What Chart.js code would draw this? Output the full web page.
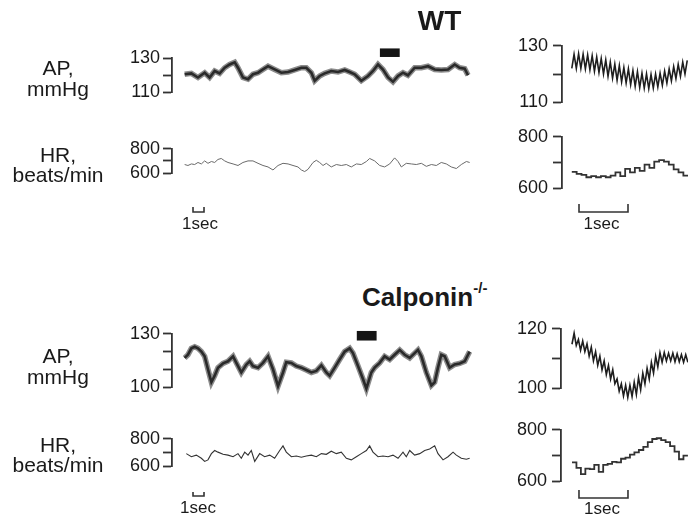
<!DOCTYPE html>
<html>
<head>
<meta charset="utf-8">
<script src="https://cdn.jsdelivr.net/npm/chart.js@4"></script>
<style>
  html, body { margin: 0; padding: 0; background: #fff; }
  #fig { position: relative; width: 688px; height: 516px; overflow: hidden;
         font-family: "Liberation Sans", Arial, sans-serif; color: #1a1a1a; }
  #fig canvas { position: absolute; }
  .lbl { position: absolute; white-space: nowrap; }
</style>
</head>
<body>
<div id="fig"></div>
<script>
// ---- WT, long recording (seconds, mmHg / beats/min)
const wtApT = [1.15,1.76,2.36,2.97,3.42,3.88,4.33,4.79,5.24,5.70,6.00,6.45,6.91,7.36,7.82,8.27,8.73,9.33,9.94,10.55,11.15,11.76,12.21,12.67,12.97,13.42,13.88,14.48,15.09,15.70,16.15,16.61,17.21,17.82,18.27,18.73,19.18,19.64,20.09,20.55,21.00,21.45,22.06,22.67,23.27,23.88,24.48,25.09,25.70,26.15,26.61,26.91];
const wtApV = [120.5,121,118.6,121.4,118.6,122.4,121,124.3,126.2,127.5,124.3,118.6,117.6,120.5,121.4,123.3,125.2,123.3,121.4,121.8,123,124.3,124.3,121.4,116.7,119.5,121,122.4,121.8,123,121.8,120.5,116.7,119.5,122.4,126.2,123.3,118.6,116.1,119.5,121.4,119.9,124.3,124.3,125.2,123.3,123,123.3,126.2,124.3,123.7,119.9];
const wtHrT = [1.15,1.45,1.76,2.06,2.36,2.67,2.97,3.27,3.58,3.88,4.18,4.48,4.79,5.09,5.55,6.00,6.45,6.91,7.36,7.82,8.27,8.73,9.18,9.64,10.09,10.55,11.00,11.45,11.76,12.06,12.36,12.82,13.12,13.42,13.73,14.03,14.48,14.94,15.39,15.85,16.30,16.76,17.21,17.67,17.97,18.42,18.88,19.33,19.79,20.24,20.55,20.85,21.30,21.76,22.21,22.67,23.12,23.58,24.03,24.48,24.94,25.39,25.85,26.30,26.76,27.06];
const wtHrV = [670,662,675,670,687,675,700,680,695,687,712,720,700,687,675,662,687,700,700,680,662,650,625,662,680,675,662,650,625,612,630,687,705,687,662,680,650,670,662,670,650,675,670,695,720,700,662,650,675,725,695,650,680,675,670,680,655,670,662,687,675,650,637,670,695,687];
const wtBar = [18.9, 20.7, 130.6, 135.6];   // sec from, sec to, level lo, level hi

// ---- WT, expanded view: alternating trough/peak per beat, and beat-by-beat HR
const wtApZoom = [122,127,122,127.2,122,127,121.8,126.8,121.5,126.5,121,126,120.5,125.5,120,125,119.2,124.2,118.5,123.5,117.8,123,117.2,122.3,116.8,121.8,116.2,121.2,115.6,120.8,115.2,120.3,115,120,114.8,119.8,115,120,115.4,120.3,116,121,116.8,121.8,117.6,122.6,118.4,123.4,119.2,124.2,120,124.8];
const wtHrZoom = [663,655,651,642,646,642,646,642,648,661,646,675,661,679,667,691,679,703,709,703,691,673,661,648];

// ---- Calponin-/-, long recording
const cpApT = [1.15,1.45,1.76,2.06,2.36,2.67,2.97,3.27,3.58,3.88,4.18,4.64,5.09,5.55,5.85,6.30,6.76,7.06,7.36,7.82,8.27,8.73,9.18,9.64,10.09,10.39,10.85,11.30,11.76,12.21,12.67,13.12,13.58,14.03,14.33,14.79,15.24,15.70,16.15,16.45,16.91,17.36,17.67,18.12,18.42,18.88,19.33,19.79,20.24,20.70,21.15,21.61,22.06,22.36,22.67,23.12,23.58,23.88,24.18,24.48,24.79,25.24,25.70,26.15,26.61,26.91,27.06];
const cpApV = [116.4,118.2,121.8,122.7,121.8,120,117.3,110,102.7,106.4,110.9,113.3,114.5,117.3,113.6,108.2,112.7,114.5,111.8,110.9,113.6,117.3,110,100.5,108.2,114,113.6,111.8,110.9,109.6,108.2,109.1,112.2,108.2,106.4,110.9,115.5,120,121.8,119.1,111.8,104.5,99.1,108.2,110.9,113.6,117.3,115.5,118.2,120.9,118.2,116.4,119.1,120.9,117.3,108.2,100.9,102.7,110.9,118.2,117.3,110.9,112.7,113.3,114.5,118.2,120];
const cpHrT = [1.30,1.76,2.21,2.67,2.97,3.27,3.58,3.88,4.18,4.64,5.09,5.55,6.00,6.30,6.61,6.91,7.21,7.52,7.97,8.42,8.88,9.33,9.79,10.09,10.39,10.85,11.30,11.76,12.21,12.67,13.12,13.58,14.03,14.48,14.94,15.39,15.85,16.30,16.76,17.21,17.67,17.97,18.27,18.73,19.18,19.64,20.09,20.55,21.00,21.30,21.61,22.06,22.52,22.97,23.42,23.88,24.18,24.64,25.09,25.55,25.85,26.30,26.76,27.06];
const cpHrV = [691,668,680,657,634,645,691,714,702,686,680,668,691,657,702,680,714,634,691,668,680,657,714,748,702,668,673,664,673,680,668,691,686,709,691,702,657,645,668,691,714,748,702,668,673,668,680,657,702,668,714,680,691,714,725,748,691,645,668,702,680,657,650,657];
const cpBar = [16.8, 18.6, 126.2, 131.6];

// ---- Calponin-/-, expanded view
const cpApZoom = [114.8,118.5,114.4,116.4,112.8,115.9,112.3,114.9,110.8,113.8,109.2,112.3,107.7,110.8,106.2,109.2,104.6,107.7,103.1,106.2,101.5,103.1,99,101.5,97.4,101,96.9,101,97.2,102,97.9,103.6,99.5,105.1,101.5,106.7,103.1,108.7,105.1,110.8,107.2,112,108.7,112,109.2,111.8,109.2,111.8,108.9,111.6,108.9,111.3,108.7,111.3,108.7];
const cpHrZoom = [673,651,627,648,646,663,636,663,667,675,673,687,691,703,712,721,733,752,764,767,760,752,736,715,685,699];

const fig = document.getElementById("fig");
const FONT = '"Liberation Sans", Arial, sans-serif';

function addText(html, x, baseline, size, bold, center) {
  const d = document.createElement("div");
  d.className = "lbl";
  d.innerHTML = html;
  d.style.fontSize = size + "px";
  d.style.lineHeight = size + "px";
  d.style.top = (baseline - 0.8465 * size) + "px";
  if (bold) d.style.fontWeight = "bold";
  if (center) {
    d.style.left = (x - 150) + "px";
    d.style.width = "300px";
    d.style.textAlign = "center";
  } else {
    d.style.left = x + "px";
  }
  fig.appendChild(d);
}

const pairs = (ts, vs) => vs.map((v, i) => ({ x: ts[i], y: v }));
const evenly = (t0, dt, vs) => vs.map((v, i) => ({ x: t0 + i * dt, y: v }));
const steps = (t0, dt, vs) => evenly(t0, dt, vs.concat([vs[vs.length - 1]]));

// stimulus bar and 1-sec calibration bracket
const extras = {
  id: "extras",
  afterDatasetsDraw(chart, args, o) {
    const { ctx, chartArea } = chart;
    const xs = chart.scales.x, ys = chart.scales.y;
    ctx.save();
    if (o.bar) {
      const x0 = xs.getPixelForValue(o.bar[0]), x1 = xs.getPixelForValue(o.bar[1]);
      const y0 = ys.getPixelForValue(o.bar[3]), y1 = ys.getPixelForValue(o.bar[2]);
      ctx.fillStyle = "#151515";
      ctx.fillRect(x0, y0, x1 - x0, y1 - y0);
    }
    if (o.cal) {
      const xa = xs.getPixelForValue(o.cal.start), xb = xs.getPixelForValue(o.cal.start + o.cal.len);
      const ya = chartArea.bottom + o.cal.dy0, yb = chartArea.bottom + o.cal.dy1;
      ctx.strokeStyle = "#333";
      ctx.lineWidth = 1.6;
      ctx.beginPath();
      ctx.moveTo(xa, ya); ctx.lineTo(xa, yb); ctx.lineTo(xb, yb); ctx.lineTo(xb, ya);
      ctx.stroke();
    }
    ctx.restore();
  }
};

function makeChart(p) {
  const c = document.createElement("canvas");
  const left = p.axisX - 60, top = p.yTop - p.padTop;
  const w = p.right - left, h = p.yBot - p.yTop + p.padTop + p.padBot;
  c.width = w; c.height = h;
  c.style.left = left + "px"; c.style.top = top + "px";
  c.style.width = w + "px"; c.style.height = h + "px";
  fig.appendChild(c);
  new Chart(c, {
    type: "line",
    data: { datasets: p.datasets },
    options: {
      responsive: false,
      animation: false,
      events: [],
      layout: { padding: { top: p.padTop, bottom: p.padBot, left: 0, right: 0 } },
      plugins: { legend: { display: false }, tooltip: { enabled: false }, extras: p.extras || {} },
      elements: { point: { radius: 0 }, line: { tension: 0 } },
      scales: {
        x: { type: "linear", display: false, min: 0, max: (p.right - p.axisX) / p.pxPerSec },
        y: {
          min: p.min, max: p.max,
          afterFit: s => { s.width = 60; },
          ticks: {
            stepSize: p.step, autoSkip: false, padding: p.tickPad, color: "#1a1a1a",
            font: { family: FONT, size: 18 },
            callback: v => (v === p.min || v === p.max) ? String(v) : ""
          },
          grid: { drawOnChartArea: false, drawTicks: true, tickLength: 9, tickColor: "#333", tickWidth: 1.8 },
          border: { display: true, color: "#333", width: 1.8 }
        }
      }
    },
    plugins: [extras]
  });
}

// dark core over a grey halo (lower `order` is drawn on top)
function band(data) {
  return [
    { data, borderColor: "#2a2a2a", borderWidth: 2.6, clip: false, order: 0 },
    { data, borderColor: "#8c8c8c", borderWidth: 5.5, clip: false, order: 1 }
  ];
}

// WT
makeChart({ axisX: 172, yTop: 58, yBot: 94, right: 474, padTop: 16, padBot: 12, pxPerSec: 11,
  min: 110, max: 130, step: 10, tickPad: 3, datasets: band(pairs(wtApT, wtApV)), extras: { bar: wtBar } });
makeChart({ axisX: 172, yTop: 147, yBot: 173, right: 474, padTop: 12, padBot: 42, pxPerSec: 11,
  min: 600, max: 800, step: 100, tickPad: 3,
  datasets: [{ data: pairs(wtHrT, wtHrV), borderColor: "#6a6a6a", borderWidth: 1, clip: false }],
  extras: { cal: { start: 1.91, len: 1, dy0: 34, dy1: 39 } } });
makeChart({ axisX: 562, yTop: 42, yBot: 106, right: 688, padTop: 12, padBot: 12, pxPerSec: 49,
  min: 110, max: 130, step: 10, tickPad: 5,
  datasets: [{ data: evenly(0.2, 0.0462, wtApZoom), borderColor: "#1e1e1e", borderWidth: 1.6, clip: false }] });
makeChart({ axisX: 562, yTop: 133, yBot: 188, right: 688, padTop: 12, padBot: 28, pxPerSec: 49,
  min: 600, max: 800, step: 100, tickPad: 5,
  datasets: [{ data: steps(0.2, 0.099, wtHrZoom), stepped: true, borderColor: "#333", borderWidth: 1.8, clip: false }],
  extras: { cal: { start: 0.347, len: 1, dy0: 16, dy1: 24 } } });

// Calponin-/-
makeChart({ axisX: 172, yTop: 332, yBot: 387, right: 474, padTop: 12, padBot: 14, pxPerSec: 11,
  min: 100, max: 130, step: 10, tickPad: 3, datasets: band(pairs(cpApT, cpApV)), extras: { bar: cpBar } });
makeChart({ axisX: 172, yTop: 437, yBot: 466, right: 474, padTop: 12, padBot: 34, pxPerSec: 11,
  min: 600, max: 800, step: 100, tickPad: 3,
  datasets: [{ data: pairs(cpHrT, cpHrV), borderColor: "#333", borderWidth: 1.1, clip: false }],
  extras: { cal: { start: 1.91, len: 1, dy0: 26, dy1: 30 } } });
makeChart({ axisX: 561, yTop: 325, yBot: 390, right: 688, padTop: 12, padBot: 14, pxPerSec: 49,
  min: 100, max: 120, step: 10, tickPad: 5,
  datasets: [{ data: evenly(0.224, 0.0438, cpApZoom), borderColor: "#1e1e1e", borderWidth: 1.6, clip: false }] });
makeChart({ axisX: 561, yTop: 426, yBot: 481, right: 688, padTop: 12, padBot: 20, pxPerSec: 49,
  min: 600, max: 800, step: 100, tickPad: 5,
  datasets: [{ data: steps(0.224, 0.091, cpHrZoom), stepped: true, borderColor: "#333", borderWidth: 1.8, clip: false }],
  extras: { cal: { start: 0.367, len: 1, dy0: 9, dy1: 17 } } });

// text
addText("WT", 439.5, 31, 28, true, true);
addText('Calponin<span style="font-size:15px;position:relative;top:-13px">-/-</span>', 362, 306, 26, true, false);
addText("AP,", 58, 75, 21, false, true);
addText("mmHg", 58, 96, 21, false, true);
addText("HR,", 58, 162, 21, false, true);
addText("beats/min", 58, 182, 21, false, true);
addText("AP,", 58, 363, 21, false, true);
addText("mmHg", 58, 384, 21, false, true);
addText("HR,", 58, 452, 21, false, true);
addText("beats/min", 58, 472, 21, false, true);
addText("1sec", 200, 229, 17, false, true);
addText("1sec", 601.5, 229, 17, false, true);
addText("1sec", 198, 513, 17, false, true);
addText("1sec", 602, 514, 17, false, true);
</script>
</body>
</html>
